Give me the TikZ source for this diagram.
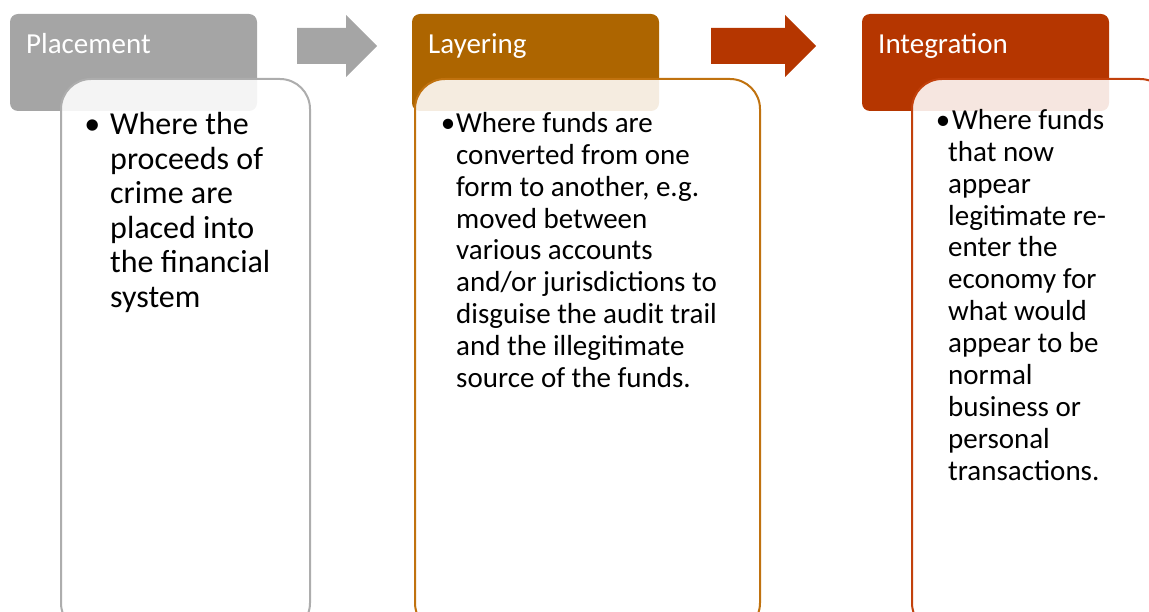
\documentclass[tikz,border=0pt]{standalone}
\usepackage{fontspec}
\setmainfont{Carlito}
\usetikzlibrary{positioning}
\definecolor{headgray}{HTML}{A5A5A5}
\definecolor{headbrown}{HTML}{AD6500}
\definecolor{headred}{HTML}{B53600}
\definecolor{linegray}{HTML}{ADADAD}
\definecolor{linebrown}{HTML}{C0720F}
\definecolor{linered}{HTML}{C2410C}
\tikzset{
	header/.style={fill=#1, rounded corners=8pt, minimum width=247pt, minimum height=97pt, anchor=north west, inner sep=0pt, outer sep=0pt},
	headtext/.style={text=white, font=\fontsize{29}{35}\selectfont, anchor=base west, inner sep=0pt},
	card/.style={draw=#1, line width=2pt, fill=white, fill opacity=0.88, rounded corners=30pt, minimum height=554pt, anchor=north west, inner sep=0pt, outer sep=0pt},
	cardtext/.style={anchor=north west, inner sep=0pt, align=left},
}
\begin{document}
\begin{tikzpicture}[x=1pt,y=-1pt]
	\useasboundingbox (0,0) rectangle (1149,612);
	\clip (0,0) rectangle (1149,612);
	\foreach \i/\hx/\bx/\bw/\hc/\lc/\title in {1/10/61/249/headgray/linegray/Placement,2/412/415/345/headbrown/linebrown/Layering,3/862/912/258/headred/linered/Integration} {
		\node[header=\hc] (head\i) at (\hx,14) {};
		\node[headtext] (title\i) at ([xshift=16pt,yshift=-40pt]head\i.north west) {\title};
		\node[card=\lc, minimum width=\bw pt] (card\i) at (\bx,79) {};
	}
	\foreach \ax/\al/\ac in {297/49/headgray,711/74/headred} {
		\fill[\ac] (\ax,28) -- ++(\al,0) -- ++(0,-13) -- ++(31,31) -- ++(-31,31) -- ++(0,-13) -- ++(-\al,0) -- cycle;
	}
	\node[cardtext, font=\fontsize{32}{34.6}\selectfont] (text1) at (110,112)
		{\llap{•\kern10pt}Where the\\proceeds of\\crime are\\placed into\\the financial\\system};
	\node[cardtext, font=\fontsize{29}{31.9}\selectfont] (text2) at (456,112)
		{\llap{•\kern1pt}Where funds are\\converted from one\\form to another, e.g.\\moved between\\various accounts\\and/or jurisdictions to\\disguise the audit trail\\and the illegitimate\\source of the funds.};
	\node[cardtext, font=\fontsize{29}{31.9}\selectfont] (text3) at (948,109)
		{\kern4pt\llap{•\kern2pt}Where funds\\that now\\appear\\legitimate re-\\enter the\\economy for\\what would\\appear to be\\normal\\business or\\personal\\transactions.};
\end{tikzpicture}
\end{document}
